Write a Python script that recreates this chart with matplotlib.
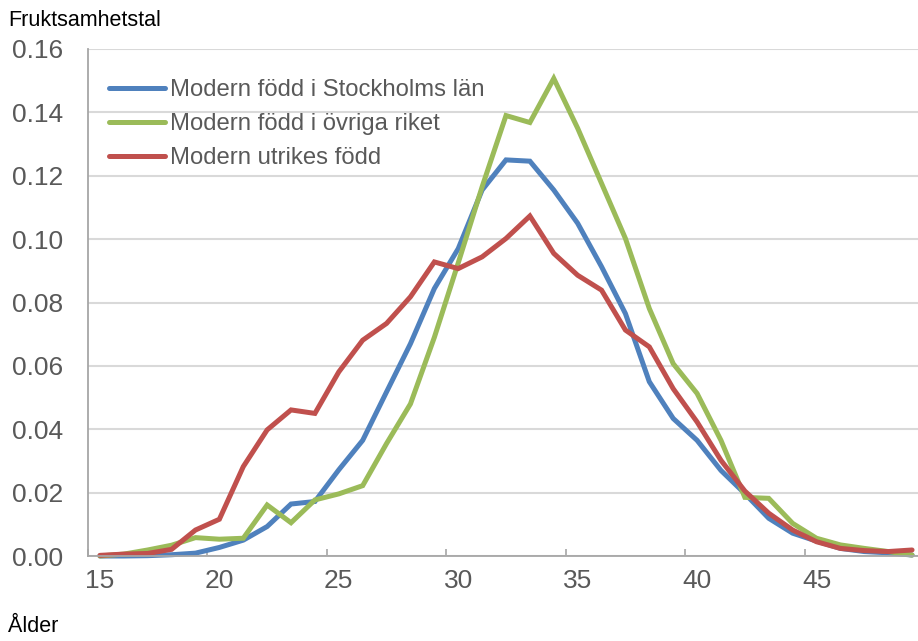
import numpy as np
import matplotlib
matplotlib.use("Agg")
import matplotlib.pyplot as plt

# === Data ===
ages = list(range(15, 50))

stockholm = [0.0000, 0.0000, 0.0001, 0.0004, 0.0009, 0.0027, 0.0050, 0.0093, 0.0164, 0.0172,
             0.0272, 0.0365, 0.0518, 0.0670, 0.0844, 0.0970, 0.1155, 0.1250, 0.1246, 0.1155,
             0.1050, 0.0913, 0.0765, 0.0550, 0.0434, 0.0365, 0.0270, 0.0197, 0.0119, 0.0072,
             0.0047, 0.0024, 0.0014, 0.0010, 0.0003]

ovriga = [0.0000, 0.0006, 0.0019, 0.0034, 0.0058, 0.0053, 0.0056, 0.0161, 0.0105, 0.0177,
          0.0196, 0.0222, 0.0355, 0.0480, 0.0690, 0.0925, 0.1165, 0.1390, 0.1368, 0.1507,
          0.1350, 0.1176, 0.1002, 0.0781, 0.0607, 0.0513, 0.0365, 0.0185, 0.0182, 0.0103,
          0.0056, 0.0035, 0.0024, 0.0014, 0.0003]

utrikes = [0.0002, 0.0006, 0.0008, 0.0021, 0.0082, 0.0116, 0.0282, 0.0398, 0.0461, 0.0450,
           0.0581, 0.0681, 0.0734, 0.0818, 0.0928, 0.0907, 0.0944, 0.1002, 0.1073, 0.0955,
           0.0886, 0.0839, 0.0713, 0.0660, 0.0528, 0.0423, 0.0302, 0.0205, 0.0135, 0.0082,
           0.0045, 0.0024, 0.0017, 0.0014, 0.0019]

labels = ["Modern född i Stockholms län", "Modern född i övriga riket", "Modern utrikes född"]
colors = ["#4f81bd", "#9bbb59", "#c0504d"]

# === Figure ===
plt.rcParams['font.family'] = ['Liberation Sans', 'DejaVu Sans']
W, H = 918, 641
fig = plt.figure(figsize=(W / 100, H / 100), dpi=100)
ax = fig.add_axes([88 / W, 1 - 556 / H, (924 - 88) / W, (556 - 49) / H])

for series, lab, col in zip([stockholm, ovriga, utrikes], labels, colors):
    ax.plot(ages, series, color=col, linewidth=3.6, label=lab,
            solid_joinstyle='miter', solid_capstyle='round', clip_on=False)

ax.set_xlim(14.5, 49.5)
ax.set_ylim(0, 0.16)

ax.set_yticks(np.arange(0, 0.161, 0.02))
ax.set_yticklabels([f"{v:.2f}" for v in np.arange(0, 0.161, 0.02)])
ax.set_xticks(range(15, 50, 5))
ax.set_xticks(np.arange(14.5, 50, 5), minor=True)

ax.tick_params(axis='y', length=0, pad=18, labelsize=19, labelcolor='#595959')
ax.tick_params(axis='x', which='major', length=0, pad=9, labelsize=19, labelcolor='#595959')
ax.tick_params(axis='x', which='minor', direction='in', length=5, width=1.2, color='#a6a6a6')

ax.grid(axis='y', color='#d9d9d9', linewidth=1.5)
ax.set_axisbelow(True)
for side in ['top', 'right']:
    ax.spines[side].set_visible(False)
for side in ['left', 'bottom']:
    ax.spines[side].set_color('#a6a6a6')
    ax.spines[side].set_linewidth(1.3)

leg = ax.legend(loc='upper left', bbox_to_anchor=(109 / W, 1 - 79 / H),
                bbox_transform=fig.transFigure, frameon=False, fontsize=17.2,
                handlelength=2.35, handletextpad=0.2, labelspacing=0.5,
                borderpad=0, borderaxespad=0)
for t in leg.get_texts():
    t.set_color('#595959')

fig.text(8 / W, 1 - 21 / H, "Fruktsamhetstal", fontsize=15.5, va='center', ha='left')
fig.text(8 / W, 1 - 627 / H, "Ålder", fontsize=15.5, va='center', ha='left')

fig.savefig("out.png", dpi=100)
